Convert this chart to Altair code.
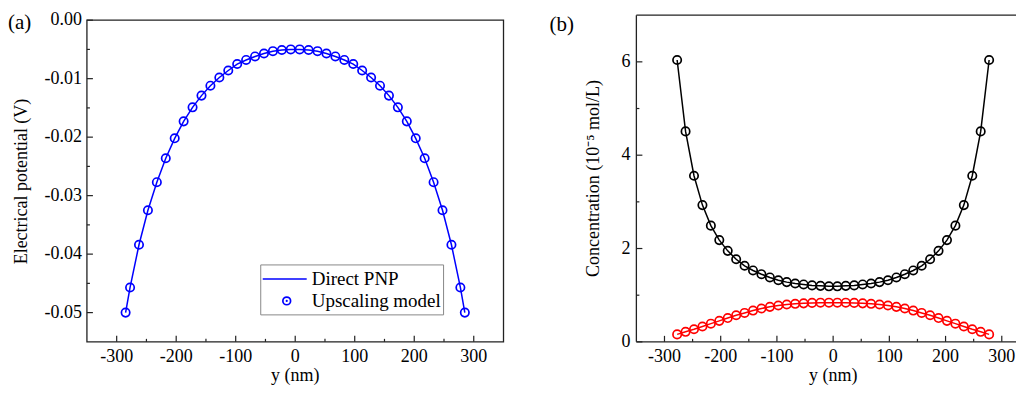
import altair as alt
import pandas as pd

FONT = "Liberation Serif"

# ---------------- data: panel (a) ----------------
pos_a = [-285, -277.5, -262.5, -247.5, -232.5, -217.5, -202.5, -187.5, -172.5, -157.5,
         -142.5, -127.5, -112.5, -97.5, -82.5, -67.5, -52.5, -37.5, -22.5, -7.5,
         7.5, 22.5, 37.5, 52.5, 67.5, 82.5, 97.5, 112.5, 127.5, 142.5,
         157.5, 172.5, 187.5, 202.5, 217.5, 232.5, 247.5, 262.5, 277.5, 285]
potential = [-0.0500, -0.0457, -0.0384, -0.0325, -0.0277, -0.0236, -0.0202, -0.0173, -0.0149, -0.0129,
             -0.0112, -0.0098, -0.0086, -0.0075, -0.0068, -0.0062, -0.0057, -0.0053, -0.0051, -0.0050,
             -0.0050, -0.0051, -0.0053, -0.0057, -0.0062, -0.0068, -0.0075, -0.0086, -0.0098, -0.0112,
             -0.0129, -0.0149, -0.0173, -0.0202, -0.0236, -0.0277, -0.0325, -0.0384, -0.0457, -0.0500]

# ---------------- data: panel (b) ----------------
pos_b = [-277.5, -262.5, -247.5, -232.5, -217.5, -202.5, -187.5, -172.5, -157.5, -142.5,
         -127.5, -112.5, -97.5, -82.5, -67.5, -52.5, -37.5, -22.5, -7.5,
         7.5, 22.5, 37.5, 52.5, 67.5, 82.5, 97.5, 112.5, 127.5, 142.5,
         157.5, 172.5, 187.5, 202.5, 217.5, 232.5, 247.5, 262.5, 277.5]
conc_black = [6.04, 4.51, 3.56, 2.93, 2.49, 2.18, 1.95, 1.77, 1.63, 1.53,
              1.45, 1.38, 1.32, 1.28, 1.25, 1.23, 1.21, 1.20, 1.19,
              1.19, 1.20, 1.21, 1.23, 1.25, 1.28, 1.32, 1.38, 1.45, 1.53,
              1.63, 1.77, 1.95, 2.18, 2.49, 2.93, 3.56, 4.51, 6.04]
conc_red = [0.16, 0.215, 0.27, 0.33, 0.39, 0.45, 0.51, 0.57, 0.62, 0.67,
            0.715, 0.75, 0.78, 0.80, 0.815, 0.825, 0.835, 0.84, 0.84,
            0.84, 0.84, 0.835, 0.825, 0.815, 0.80, 0.78, 0.75, 0.715, 0.67,
            0.62, 0.57, 0.51, 0.45, 0.39, 0.33, 0.27, 0.215, 0.16]

# ---------------- ticks and tick labels ----------------
x_major = [-300, -200, -100, 0, 100, 200, 300]
x_labels = ["-300", "-200", "-100", "0", "100", "200", "300"]
x_minor = [-250, -150, -50, 50, 150, 250]
a_y_major = [0.0, -0.01, -0.02, -0.03, -0.04, -0.05]
a_y_labels = ["0.00", "-0.01", "-0.02", "-0.03", "-0.04", "-0.05"]
a_y_minor = [-0.005, -0.015, -0.025, -0.035, -0.045]
b_y_major = [0, 2, 4, 6]
b_y_labels = ["0", "2", "4", "6"]
b_y_minor = [1, 3, 5]

W_A, W_B, H = 417, 380, 327
LBL = 18


def one_row():
    return pd.DataFrame({"k": [0]})


def xticks(vals, scale, length):
    return alt.Chart(pd.DataFrame({"v": vals})).mark_rule(color="#222", strokeWidth=1.2).encode(
        x=alt.X("v:Q", scale=scale, axis=None), y=alt.value(H), y2=alt.value(H - length))


def yticks(vals, scale, length):
    return alt.Chart(pd.DataFrame({"v": vals})).mark_rule(color="#222", strokeWidth=1.2).encode(
        y=alt.Y("v:Q", scale=scale, axis=None), x=alt.value(0), x2=alt.value(length))


def xlabels(vals, texts, scale):
    return alt.Chart(pd.DataFrame({"v": vals, "t": texts})).mark_text(
        font=FONT, fontSize=LBL, color="black", align="center", baseline="alphabetic").encode(
        x=alt.X("v:Q", scale=scale, axis=None), y=alt.value(H + 20), text="t:N")


def ylabels(vals, texts, scale, pad):
    return alt.Chart(pd.DataFrame({"v": vals, "t": texts})).mark_text(
        font=FONT, fontSize=LBL, color="black", align="right", baseline="middle").encode(
        y=alt.Y("v:Q", scale=scale, axis=None), x=alt.value(-pad), text="t:N")


def free_text(txt, x, y, size=LBL, angle=0, align="center", baseline="middle"):
    return alt.Chart(one_row()).mark_text(
        text=txt, font=FONT, fontSize=size, color="black", align=align, baseline=baseline,
        angle=angle).encode(x=alt.value(x), y=alt.value(y))


# ================= panel (a) =================
xs_a = alt.Scale(domain=[-350, 350], nice=False, zero=False)
ys_a = alt.Scale(domain=[-0.055, 0.000854], nice=False, zero=False)
df_a = pd.DataFrame({"y_nm": pos_a, "phi": potential})
BLUE = "#0000ff"

line_a = alt.Chart(df_a).mark_line(color=BLUE, strokeWidth=1.5).encode(
    x=alt.X("y_nm:Q", scale=xs_a, axis=None), y=alt.Y("phi:Q", scale=ys_a, axis=None))
pts_a = alt.Chart(df_a).mark_point(shape="circle", filled=False, size=70, strokeWidth=1.7,
                                   color=BLUE, opacity=1).encode(
    x=alt.X("y_nm:Q", scale=xs_a, axis=None), y=alt.Y("phi:Q", scale=ys_a, axis=None))

frame_a = alt.Chart(pd.DataFrame({"x0": [-350], "x1": [350], "y0": [-0.055], "y1": [0.0]})).mark_rect(
    fill="transparent", stroke="#222", strokeWidth=1.3).encode(
    x=alt.X("x0:Q", scale=xs_a, axis=None), x2="x1:Q",
    y=alt.Y("y0:Q", scale=ys_a, axis=None), y2="y1:Q")

anchor = alt.Chart(one_row()).mark_rect(fill="white").encode(
    x=alt.value(-79), x2=alt.value(-78), y=alt.value(-7), y2=alt.value(-6))

leg_box = alt.Chart(one_row()).mark_rect(fill="white", stroke="#888", strokeWidth=1).encode(
    x=alt.value(174), x2=alt.value(357), y=alt.value(250), y2=alt.value(300))
leg_line = alt.Chart(one_row()).mark_rule(color=BLUE, strokeWidth=1.5).encode(
    x=alt.value(176), x2=alt.value(220), y=alt.value(264))
leg_circ = alt.Chart(one_row()).mark_point(shape="circle", filled=False, size=60, strokeWidth=1.7,
                                           color=BLUE, opacity=1).encode(
    x=alt.value(200), y=alt.value(286))
leg_dot = alt.Chart(one_row()).mark_point(shape="circle", filled=True, size=5, color=BLUE, opacity=1).encode(
    x=alt.value(200), y=alt.value(286))

panel_a = alt.layer(
    line_a, pts_a, frame_a,
    xticks(x_major, xs_a, 6), xticks(x_minor, xs_a, 3),
    yticks(a_y_major, ys_a, 6), yticks(a_y_minor, ys_a, 3),
    xlabels(x_major, x_labels, xs_a), ylabels(a_y_major, a_y_labels, ys_a, 5),
    free_text("y (nm)", W_A / 2, H + 39, baseline="alphabetic"),
    free_text("Electrical potential (V)", -65, 166.5, angle=270),
    leg_box, leg_line, leg_circ, leg_dot,
    free_text("Direct PNP", 225, 264, size=19, align="left"),
    free_text("Upscaling model", 225, 286, size=19, align="left"),
    anchor,
    free_text("(a)", -79, 8, size=21, align="left"),
).properties(width=W_A, height=H)

# ================= panel (b) =================
xs_b = alt.Scale(domain=[-350, 325.3], nice=False, zero=False)
ys_b = alt.Scale(domain=[0, 7], nice=False, zero=False)
df_k = pd.DataFrame({"y_nm": pos_b, "c": conc_black})
df_r = pd.DataFrame({"y_nm": pos_b, "c": conc_red})


def series(df, color):
    line = alt.Chart(df).mark_line(color=color, strokeWidth=1.5).encode(
        x=alt.X("y_nm:Q", scale=xs_b, axis=None), y=alt.Y("c:Q", scale=ys_b, axis=None))
    pts = alt.Chart(df).mark_point(shape="circle", filled=False, size=70, strokeWidth=1.7,
                                   color=color, opacity=1).encode(
        x=alt.X("y_nm:Q", scale=xs_b, axis=None), y=alt.Y("c:Q", scale=ys_b, axis=None))
    return [line, pts]


fr_left = alt.Chart(one_row()).mark_rule(color="#222", strokeWidth=1.3).encode(
    x=alt.value(0), y=alt.value(0), y2=alt.value(H))
fr_top = alt.Chart(one_row()).mark_rule(color="#222", strokeWidth=1.3).encode(
    x=alt.value(0), x2=alt.value(W_B), y=alt.value(0))
fr_bot = alt.Chart(one_row()).mark_rule(color="#222", strokeWidth=1.3).encode(
    x=alt.value(0), x2=alt.value(W_B), y=alt.value(H))

panel_b = alt.layer(
    *series(df_k, "black"), *series(df_r, "#ff0000"),
    fr_left, fr_top, fr_bot,
    xticks(x_major, xs_b, 6), xticks(x_minor, xs_b, 3),
    yticks(b_y_major, ys_b, 6), yticks(b_y_minor, ys_b, 3),
    xlabels(x_major, x_labels, xs_b), ylabels(b_y_major, b_y_labels, ys_b, 6),
    free_text("y (nm)", 197, H + 39, baseline="alphabetic"),
    free_text("Concentration (10\u207b\u2075 mol/L)", -42, 163.5, angle=270),
    free_text("(b)", -87, 10, size=21, align="left"),
).properties(width=W_B, height=H)

chart = alt.hconcat(panel_a, panel_b, spacing=133, bounds="flush").properties(
    padding=0, background="white"
).configure_view(strokeWidth=0)

chart.save("out.html", embed_options={"renderer": "svg", "actions": False})
